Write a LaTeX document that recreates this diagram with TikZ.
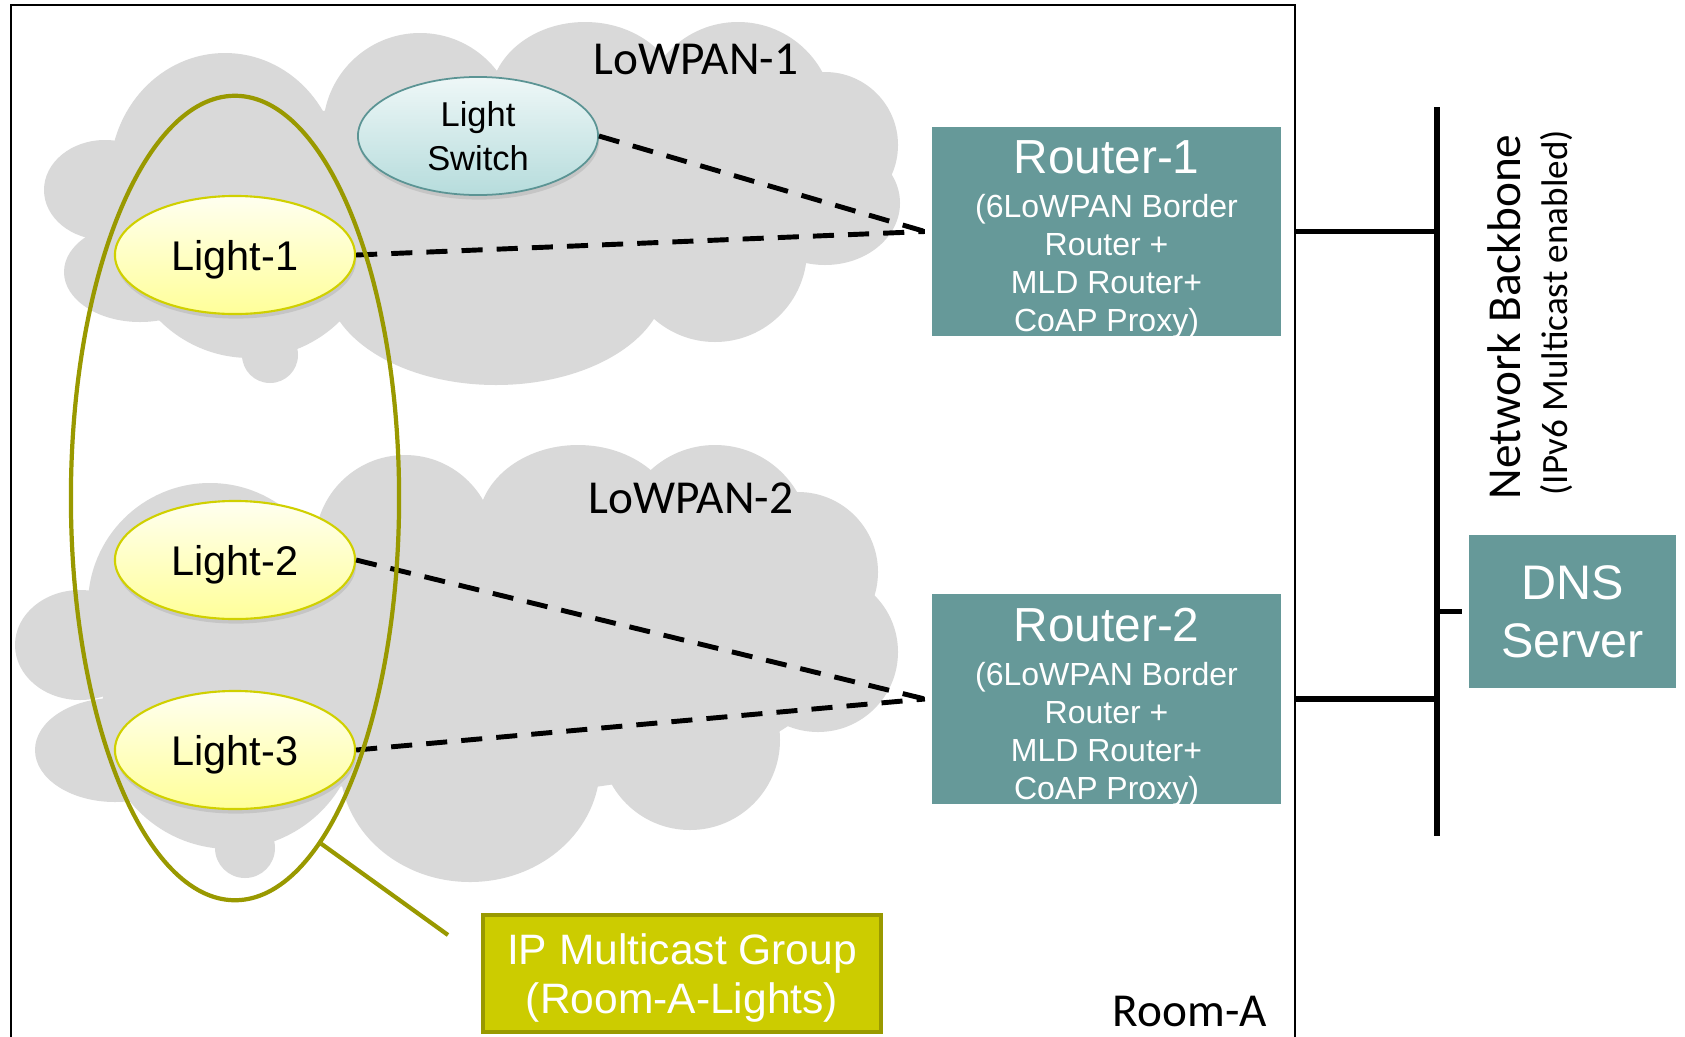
\documentclass[tikz,border=0pt]{standalone}
\usepackage{fontspec}
\setmainfont{Liberation Sans}
\newfontfamily\calibri{Carlito}
\usetikzlibrary{shapes.geometric,shadows}
\definecolor{cloudgray}{HTML}{D9D9D9}
\definecolor{routerteal}{HTML}{669999}
\definecolor{grpolive}{HTML}{999900}
\definecolor{ipfill}{HTML}{CCCC00}
\definecolor{lightTop}{HTML}{FFFFF0}
\definecolor{lightBot}{HTML}{FFFF99}
\definecolor{lightBorder}{HTML}{D0D000}
\definecolor{swTop}{HTML}{EEF7F7}
\definecolor{swBot}{HTML}{B6DCDC}
\definecolor{swBorder}{HTML}{5B9494}
\begin{document}
\begin{tikzpicture}[x=0.01cm,y=-0.01cm,
  lightnode/.style={ellipse, draw=lightBorder, line width=0.6pt, top color=lightTop, bottom color=lightBot,
    minimum width=2.40cm, minimum height=1.18cm, inner sep=0pt, text depth=0pt, font=\fontsize{11.8}{14}\selectfont,
    drop shadow={opacity=0.22, shadow xshift=0.3pt, shadow yshift=-1.3pt}},
  switchnode/.style={ellipse, draw=swBorder, line width=0.5pt, top color=swTop, bottom color=swBot,
    minimum width=2.40cm, minimum height=1.18cm, inner sep=0pt, align=center,
    font=\fontsize{9.8}{12.5}\selectfont,
    drop shadow={opacity=0.22, shadow xshift=0.3pt, shadow yshift=-1.3pt}},
  routerbox/.style={rectangle, fill=routerteal, draw=white, line width=2pt, text=white, align=center,
    inner sep=0pt, drop shadow={opacity=0.22, shadow xshift=0.7pt, shadow yshift=-1.1pt}},
  dashline/.style={draw=black, line width=1.4pt, dash pattern=on 6pt off 4pt},
  netline/.style={draw=black, line width=1.55pt},
  bbline/.style={draw=black, line width=1.8pt},
  calib/.style={font=\calibri\fontsize{13.45}{16}\selectfont, inner sep=0pt},
]
\useasboundingbox (0,0) rectangle (1685,1036);
\fill[white] (0,0) rectangle (1685,1036);

% room
\coordinate (roomBL) at (11,1045);
\coordinate (roomTL) at (11,5);
\coordinate (roomTR) at (1295,5);
\coordinate (roomBR) at (1295,1045);
\draw[line width=0.6pt] (roomBL) -- (roomTL) -- (roomTR) -- (roomBR);

\begin{scope}[fill=cloudgray]
% cloud 1
\fill (480,210) ellipse [x radius=360, y radius=110];
\fill (105,190) ellipse [x radius=61, y radius=50];
\fill (140,272) ellipse [x radius=76, y radius=50];
\fill (250,230) circle [radius=128];
\fill (270,355) circle [radius=28];
\fill (496,280) ellipse [x radius=170, y radius=105];
\fill (715,250) circle [radius=92];
\fill (825,203) ellipse [x radius=75, y radius=62];
\fill (825,145) circle [radius=73];
\fill (738,118) circle [radius=96];
\fill (585,100) ellipse [x radius=95, y radius=78];
\fill (420,130) circle [radius=97];
\fill (225,175) ellipse [x radius=115, y radius=122];
% cloud 2
\fill (470,665) ellipse [x radius=360, y radius=130];
\fill (80,645) ellipse [x radius=65, y radius=55];
\fill (115,750) ellipse [x radius=80, y radius=52];
\fill (230,720) circle [radius=129];
\fill (245,848) circle [radius=30];
\fill (470,765) ellipse [x radius=130, y radius=117];
\fill (690,740) circle [radius=90];
\fill (818,652) circle [radius=80];
\fill (798,572) circle [radius=80];
\fill (715,540) circle [radius=95];
\fill (578,525) ellipse [x radius=100, y radius=80];
\fill (405,545) circle [radius=90];
\fill (210,605) circle [radius=122];
\end{scope}

\node[calib] (lp1) at (696,59) {LoWPAN-1};
\node[calib] (lp2) at (691,498) {LoWPAN-2};
\node[calib] (roomA) at (1190,1011) {Room-A};

% routers
\node[routerbox, minimum width=3.56cm, minimum height=2.16cm,
  font=\fontsize{9.1}{10.8}\selectfont] (r1) at (1106.5,231.5)
  {\rule{0pt}{13.9pt}{\fontsize{13.6}{14}\selectfont Router-1}\\[1.8pt](6LoWPAN Border\\Router +\\MLD Router+\\CoAP Proxy)};
\node[routerbox, minimum width=3.56cm, minimum height=2.16cm,
  font=\fontsize{9.1}{10.8}\selectfont] (r2) at (1106.5,699)
  {\rule{0pt}{13.9pt}{\fontsize{13.6}{14}\selectfont Router-2}\\[1.8pt](6LoWPAN Border\\Router +\\MLD Router+\\CoAP Proxy)};
\node[routerbox, minimum width=2.14cm, minimum height=1.60cm,
  font=\fontsize{13.8}{16.5}\selectfont] (dns) at (1572.5,611.5) {DNS\\Server};

% lights
\node[switchnode] (ls) at (478,136) {Light\\Switch};
\node[lightnode] (l1) at (235,255) {Light-1};
\node[lightnode] (l2) at (235,560) {Light-2};
\node[lightnode] (l3) at (235,750) {Light-3};

% dashed links
\draw[dashline] (ls.east) -- (r1.west);
\draw[dashline] (l1.east) -- (r1.west);
\draw[dashline] (l2.east) -- (r2.west);
\draw[dashline] (l3.east) -- (r2.west);

% multicast group
\node[ellipse, draw=grpolive, line width=1.2pt, minimum width=3.28cm, minimum height=8.04cm, inner sep=0pt] (grp) at (235,498) {};
\coordinate (leadEnd) at (448,935);
\draw[grpolive, line width=1.2pt] (grp.-76.5) -- (leadEnd);
\node[rectangle, fill=ipfill, draw=grpolive, line width=1.2pt, minimum width=3.98cm, minimum height=1.17cm,
  text=white, align=center, inner sep=0pt, text depth=0pt, font=\fontsize{12.1}{14}\selectfont] (ipg) at (682,973.5)
  {IP Multicast Group\\(Room-A-Lights)};

% backbone
\coordinate (bbTop) at (1437,107);
\coordinate (bbBot) at (1437,836);
\coordinate (rr) at (1295,0);
\draw[bbline] (bbTop) -- (bbBot);
\draw[netline] (r1.east -| rr) -- (r1.east -| bbTop);
\draw[netline] (r2.east -| rr) -- (r2.east -| bbTop);
\draw[netline] (dns.west -| bbTop) -- (dns.west);

\node[calib, rotate=90, anchor=west] (nb) at (1504,500) {Network Backbone};
\node[font=\calibri\fontsize{10.55}{12}\selectfont, inner sep=0pt, rotate=90, anchor=west] (ipv6) at (1556,496) {(IPv6 Multicast enabled)};
\end{tikzpicture}
\end{document}
